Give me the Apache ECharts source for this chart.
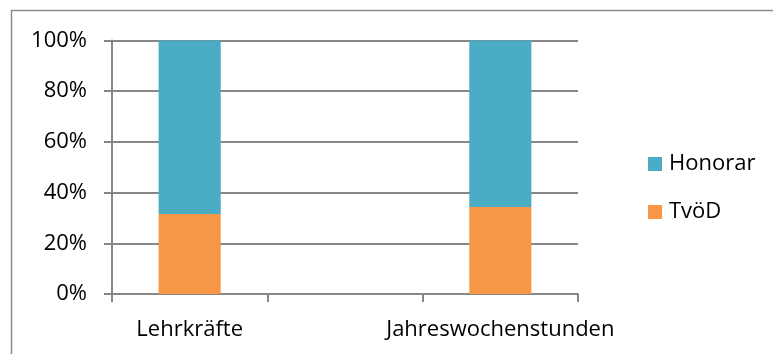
<!DOCTYPE html>
<html>
<head>
<meta charset="utf-8">
<script src="https://cdn.jsdelivr.net/npm/echarts@6/dist/echarts.min.js"></script>
<style>
  html, body { margin: 0; padding: 0; background: #fff; }
  #chart { width: 773px; height: 354px; }
</style>
</head>
<body>
<div id="chart"></div>
<script>
// categories (middle slot is empty in the original)
var categories = ['Lehrkräfte', '', 'Jahreswochenstunden'];
// shares in percent
var tvod = [31.6, null, 34.3];
var honorar = [68.4, null, 65.7];
var yTicks = [0, 20, 40, 60, 80, 100];

var FONT = '"Open Sans", sans-serif';
var GRID_COLOR = '#878787';

var chart = echarts.init(document.getElementById('chart'));

var option = {
    animation: false,
    textStyle: { fontFamily: FONT },
    graphic: [
        {
            type: 'rect',
            shape: { x: 11.5, y: 10.5, width: 800, height: 400 },
            style: { fill: 'none', stroke: '#8c8c8c', lineWidth: 1.5 }
        }
    ],
    grid: { left: 112, top: 40.5, right: 195, bottom: 60 },
    legend: {
        orient: 'vertical',
        left: 643,
        top: 148,
        itemWidth: 14,
        itemHeight: 14,
        itemGap: 26,
        icon: 'rect',
        textStyle: { fontSize: 22, color: '#000', fontFamily: FONT, padding: [0, 0, 0, 2] },
        data: ['Honorar', 'TvöD']
    },
    xAxis: {
        type: 'category',
        data: categories,
        boundaryGap: true,
        axisLine: { lineStyle: { color: GRID_COLOR, width: 2 } },
        axisTick: { show: true, length: 8, lineStyle: { color: GRID_COLOR, width: 2 } },
        axisLabel: { fontSize: 22, color: '#000', margin: 25, interval: 0 }
    },
    yAxis: {
        type: 'value',
        min: 0,
        max: 100,
        interval: 20,
        axisLine: { show: true, lineStyle: { color: GRID_COLOR, width: 2 } },
        axisTick: { show: true, length: 8, inside: false, lineStyle: { color: GRID_COLOR, width: 2 } },
        splitLine: { show: true, lineStyle: { color: GRID_COLOR, width: 2 } },
        axisLabel: {
            fontSize: 22,
            color: '#000',
            margin: 25,
            formatter: function (v) {
                return yTicks.indexOf(v) >= 0 ? v + '%' : '';
            }
        }
    },
    series: [
        {
            name: 'TvöD',
            type: 'bar',
            stack: 'total',
            barWidth: '40%',
            itemStyle: { color: '#F79646' },
            data: tvod
        },
        {
            name: 'Honorar',
            type: 'bar',
            stack: 'total',
            barWidth: '40%',
            itemStyle: { color: '#4BACC6' },
            data: honorar
        }
    ]
};

chart.setOption(option);
</script>
</body>
</html>
